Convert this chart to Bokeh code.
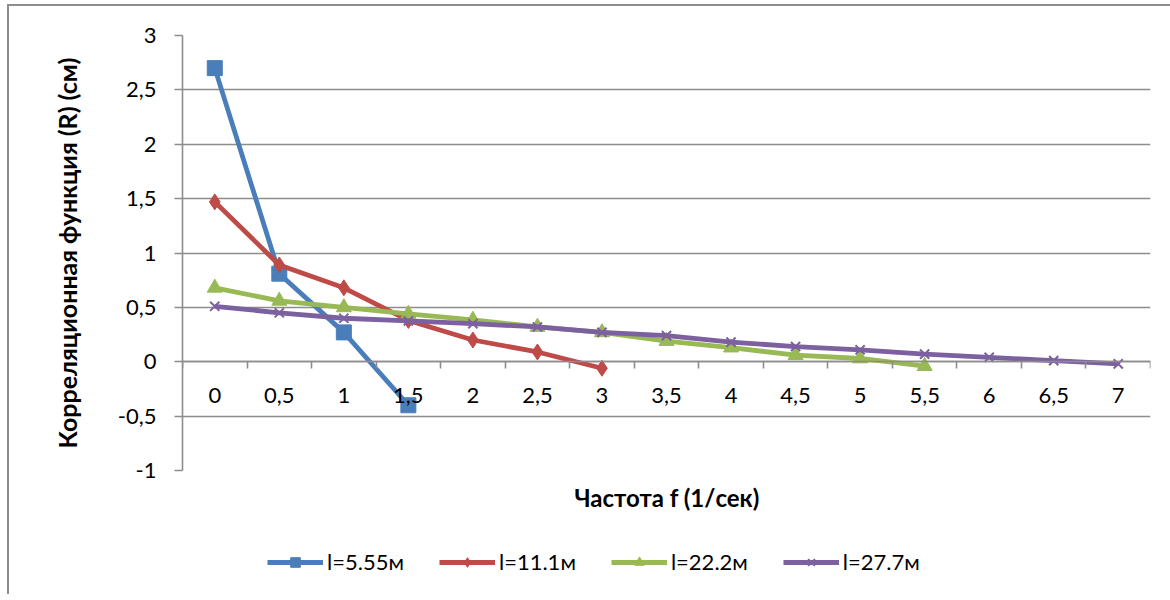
from bokeh.plotting import figure
from bokeh.layouts import column
from bokeh.models import Range1d, FixedTicker, Legend, LegendItem, Label
from bokeh.embed import file_html
from bokeh.resources import INLINE

freq = [0, 0.5, 1, 1.5, 2, 2.5, 3, 3.5, 4, 4.5, 5, 5.5, 6, 6.5, 7]
freq_labels = ["0", "0,5", "1", "1,5", "2", "2,5", "3", "3,5", "4", "4,5", "5", "5,5", "6", "6,5", "7"]

r_555 = [2.70, 0.81, 0.27, -0.40]
r_111 = [1.47, 0.89, 0.68, 0.38, 0.20, 0.09, -0.06]
r_222 = [0.68, 0.56, 0.50, 0.44, 0.385, 0.32, 0.27, 0.19, 0.13, 0.06, 0.03, -0.04]
r_277 = [0.51, 0.45, 0.40, 0.375, 0.35, 0.32, 0.27, 0.24, 0.18, 0.14, 0.11, 0.07, 0.04, 0.01, -0.02]

series_names = ["l=5.55м", "l=11.1м", "l=22.2м", "l=27.7м"]
series_values = [r_555, r_111, r_222, r_277]
series_colors = ["#4A7EBB", "#BE4B48", "#98B954", "#7D60A0"]
series_markers = ["square", "diamond", "triangle", "x"]
series_msize = [15, 16, 15, 13]

y_ticks = [-1, -0.5, 0, 0.5, 1, 1.5, 2, 2.5, 3]
y_labels = ["-1", "-0,5", "0", "0,5", "1", "1,5", "2", "2,5", "3"]

x_title = "Частота f (1/сек)"
y_title = "Корреляционная функция (R) (см)"

FONT = "Lato"
GRAY = "#8d8d8d"

x_range = Range1d(-0.25, 7.25)

# ---- main chart ----
p = figure(frame_width=968, frame_height=435, x_range=x_range, y_range=Range1d(-1, 3),
           output_backend="svg", toolbar_location=None, x_axis_location="above",
           min_border_left=173, min_border_right=20, min_border_top=29, min_border_bottom=13)
p.outline_line_color = None
p.background_fill_color = "white"
p.border_fill_color = "white"

p.xgrid.visible = False
p.ygrid.ticker = FixedTicker(ticks=y_ticks)
p.ygrid.grid_line_color = GRAY
p.ygrid.grid_line_width = 1.6

p.yaxis.ticker = FixedTicker(ticks=y_ticks)
p.yaxis.major_label_overrides = {t: l for t, l in zip(y_ticks, y_labels)}
p.yaxis.axis_line_color = GRAY
p.yaxis.axis_line_width = 1.6
p.yaxis.major_tick_line_color = GRAY
p.yaxis.major_tick_line_width = 1.6
p.yaxis.major_tick_out = 8
p.yaxis.major_tick_in = 0
p.yaxis.minor_tick_line_color = None
p.yaxis.major_label_text_font = FONT
p.yaxis.major_label_text_font_size = "22px"
p.yaxis.major_label_text_color = "black"
p.yaxis.major_label_standoff = 18
p.yaxis.axis_label = y_title
p.yaxis.axis_label_text_font = FONT
p.yaxis.axis_label_text_font_size = "25px"
p.yaxis.axis_label_text_font_style = "bold"
p.yaxis.axis_label_text_color = "black"
p.yaxis.axis_label_standoff = 33

# category axis crossing at y = 0, labels below the line
minor = [f - 0.25 for f in freq] + [freq[-1] + 0.25]
p.xaxis.fixed_location = 0
p.xaxis.ticker = FixedTicker(ticks=freq, minor_ticks=minor)
p.xaxis.major_label_overrides = {t: l for t, l in zip(freq, freq_labels)}
p.xaxis.axis_line_color = GRAY
p.xaxis.axis_line_width = 1.6
p.xaxis.major_tick_line_color = None
p.xaxis.minor_tick_line_color = GRAY
p.xaxis.minor_tick_line_width = 1.6
p.xaxis.minor_tick_out = 0
p.xaxis.minor_tick_in = 7
p.xaxis.major_label_text_font = FONT
p.xaxis.major_label_text_font_size = "22px"
p.xaxis.major_label_text_color = "black"
p.xaxis.major_label_standoff = -47

for name, vals, col, mk, ms in zip(series_names, series_values, series_colors, series_markers, series_msize):
    xs = freq[:len(vals)]
    p.line(xs, vals, line_color=col, line_width=4.8)
    p.scatter(xs, vals, marker=mk, size=ms, fill_color=col, line_color=col,
              line_width=2 if mk == "x" else 1)

# ---- strip below the chart: axis title and legend ----
# same series are drawn here outside the visible y-range only to feed the legend glyphs
H2 = 111
q = figure(width=1161, height=H2, x_range=x_range, y_range=Range1d(10, 11),
           output_backend="svg", toolbar_location=None, x_axis_type=None, y_axis_type=None,
           min_border=0)
q.outline_line_color = None
q.grid.visible = False
q.background_fill_color = "white"
q.border_fill_color = "white"

xt = Label(x=3.5, y=97, x_units="data", y_units="screen", text=x_title,
           text_align="center", text_baseline="middle",
           text_font=FONT, text_font_size="24px", text_font_style="bold", text_color="black")
q.add_layout(xt)

items = []
for name, vals, col, mk, ms in zip(series_names, series_values, series_colors, series_markers, series_msize):
    xs = freq[:len(vals)]
    ln = q.line(xs, vals, line_color=col, line_width=4.8)
    sc = q.scatter(xs, vals, marker=mk, size=ms, fill_color=col, line_color=col,
                   line_width=2 if mk == "x" else 1)
    items.append(LegendItem(label=name, renderers=[ln, sc]))

legend = Legend(items=items, orientation="horizontal", location=(85, 19),
                label_text_font=FONT, label_text_font_size="22px", label_text_color="black",
                glyph_width=56, glyph_height=24, label_height=24, spacing=35, label_standoff=4,
                padding=0, margin=0, border_line_color=None, background_fill_alpha=0)
q.add_layout(legend)

layout = column(p, q, spacing=0)
layout.styles = {"border-left": "2px solid #8d8d8d", "border-top": "2px solid #8d8d8d",
                 "margin-left": "7px", "margin-top": "4px"}

open("out.html", "w").write(file_html(layout, INLINE))
